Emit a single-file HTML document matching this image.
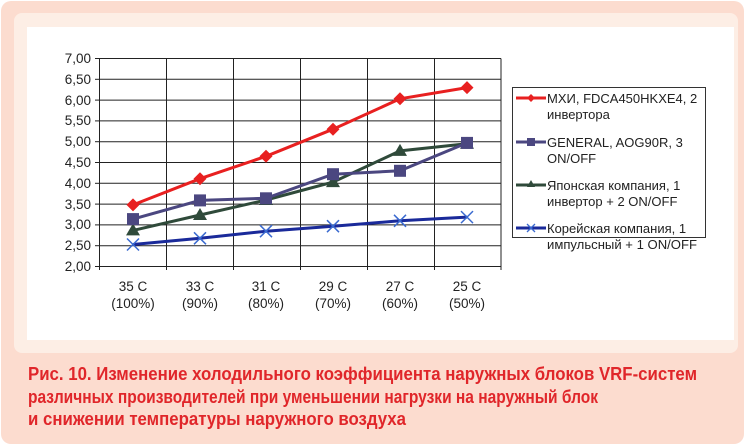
<!DOCTYPE html>
<html><head><meta charset="utf-8"><style>
html,body{margin:0;padding:0;background:#fff;}
svg{display:block;font-family:"Liberation Sans",sans-serif;}
</style></head><body>
<svg width="746" height="446" viewBox="0 0 746 446" xmlns="http://www.w3.org/2000/svg">
<rect x="0" y="0" width="746" height="446" fill="#fff"/>
<rect x="1" y="1" width="743" height="443" rx="10" fill="#fcdccf"/>
<rect x="14" y="13" width="724" height="340" rx="8" fill="#fdeee5"/>
<rect x="27" y="27" width="707" height="313" fill="#fff"/>
<g stroke="#222" stroke-width="1">
<line x1="99" y1="58.5" x2="501" y2="58.5"/>
<line x1="99" y1="79.3" x2="501" y2="79.3"/>
<line x1="99" y1="100.1" x2="501" y2="100.1"/>
<line x1="99" y1="120.9" x2="501" y2="120.9"/>
<line x1="99" y1="141.7" x2="501" y2="141.7"/>
<line x1="99" y1="162.5" x2="501" y2="162.5"/>
<line x1="99" y1="183.3" x2="501" y2="183.3"/>
<line x1="99" y1="204.1" x2="501" y2="204.1"/>
<line x1="99" y1="224.9" x2="501" y2="224.9"/>
<line x1="99" y1="245.7" x2="501" y2="245.7"/>
<line x1="95" y1="266.5" x2="501" y2="266.5"/>
<line x1="99.5" y1="58.5" x2="99.5" y2="270"/>
<line x1="166.5" y1="58.5" x2="166.5" y2="270"/>
<line x1="233.5" y1="58.5" x2="233.5" y2="270"/>
<line x1="300.5" y1="58.5" x2="300.5" y2="270"/>
<line x1="367.5" y1="58.5" x2="367.5" y2="270"/>
<line x1="434.5" y1="58.5" x2="434.5" y2="270"/>
<line x1="501" y1="58.5" x2="501" y2="270"/>
<line x1="95" y1="58.5" x2="99" y2="58.5"/><line x1="95" y1="79.3" x2="99" y2="79.3"/><line x1="95" y1="100.1" x2="99" y2="100.1"/><line x1="95" y1="120.9" x2="99" y2="120.9"/><line x1="95" y1="141.7" x2="99" y2="141.7"/><line x1="95" y1="162.5" x2="99" y2="162.5"/><line x1="95" y1="183.3" x2="99" y2="183.3"/><line x1="95" y1="204.1" x2="99" y2="204.1"/><line x1="95" y1="224.9" x2="99" y2="224.9"/><line x1="95" y1="245.7" x2="99" y2="245.7"/>
</g>
<g font-size="13.5" fill="#222" text-anchor="end">
<text x="91" y="63">7,00</text><text x="91" y="84">6,50</text><text x="91" y="105">6,00</text><text x="91" y="125">5,50</text><text x="91" y="146">5,00</text><text x="91" y="167">4,50</text><text x="91" y="188">4,00</text><text x="91" y="209">3,50</text><text x="91" y="229">3,00</text><text x="91" y="250">2,50</text><text x="91" y="271">2,00</text>
</g>
<g font-size="13.5" fill="#222" text-anchor="middle">
<text x="133" y="291">35 C</text><text x="133" y="308">(100%)</text>
<text x="200" y="291">33 C</text><text x="200" y="308">(90%)</text>
<text x="266" y="291">31 C</text><text x="266" y="308">(80%)</text>
<text x="333" y="291">29 C</text><text x="333" y="308">(70%)</text>
<text x="400" y="291">27 C</text><text x="400" y="308">(60%)</text>
<text x="467" y="291">25 C</text><text x="467" y="308">(50%)</text>
</g>
<polyline points="133,244.5 200,238.3 266,231.2 333,226.2 400,220.8 467,217.1" fill="none" stroke="#1a2a9a" stroke-width="3"/>
<g stroke="#3a6ad0" stroke-width="1.5">
<path d="M127,238.5l12,12M139,238.5l-12,12"/><path d="M194,232.3l12,12M206,232.3l-12,12"/><path d="M260,225.2l12,12M272,225.2l-12,12"/><path d="M327,220.2l12,12M339,220.2l-12,12"/><path d="M394,214.8l12,12M406,214.8l-12,12"/><path d="M461,211.1l12,12M473,211.1l-12,12"/>
</g>
<polyline points="133,230.4 200,215 266,200 333,182.1 400,150.9 467,143.8" fill="none" stroke="#2f4a3a" stroke-width="3"/>
<g fill="#2f4a3a">
<path d="M133,223.4l7,12h-14z"/><path d="M200,208l7,12h-14z"/><path d="M266,193l7,12h-14z"/><path d="M333,175.1l7,12h-14z"/><path d="M400,143.9l7,12h-14z"/><path d="M467,136.8l7,12h-14z"/>
</g>
<polyline points="133,219.1 200,200.4 266,198.3 333,174.2 400,170.8 467,142.9" fill="none" stroke="#4b4780" stroke-width="3"/>
<g fill="#4b4780">
<rect x="127" y="213.1" width="12" height="12"/><rect x="194" y="194.4" width="12" height="12"/><rect x="260" y="192.3" width="12" height="12"/><rect x="327" y="168.2" width="12" height="12"/><rect x="394" y="164.8" width="12" height="12"/><rect x="461" y="136.9" width="12" height="12"/>
</g>
<polyline points="133,204.9 200,178.7 266,156.3 333,129.2 400,98.8 467,87.6" fill="none" stroke="#e82020" stroke-width="3"/>
<g fill="#e82020">
<path d="M133,198.4l6.5,6.5l-6.5,6.5l-6.5,-6.5z"/><path d="M200,172.2l6.5,6.5l-6.5,6.5l-6.5,-6.5z"/><path d="M266,149.8l6.5,6.5l-6.5,6.5l-6.5,-6.5z"/><path d="M333,122.7l6.5,6.5l-6.5,6.5l-6.5,-6.5z"/><path d="M400,92.3l6.5,6.5l-6.5,6.5l-6.5,-6.5z"/><path d="M467,81.1l6.5,6.5l-6.5,6.5l-6.5,-6.5z"/>
</g>
<rect x="512.5" y="87.5" width="193" height="150" fill="#fff" stroke="#333" stroke-width="1"/>
<line x1="516" y1="98" x2="546" y2="98" stroke="#e82020" stroke-width="3"/><path d="M531,94l4,4l-4,4l-4,-4z" fill="#e82020"/>
<line x1="516" y1="142" x2="546" y2="142" stroke="#4b4780" stroke-width="3"/><rect x="527" y="138" width="8" height="8" fill="#4b4780"/>
<line x1="516" y1="185" x2="546" y2="185" stroke="#2f4a3a" stroke-width="3"/><path d="M531,180l4,7h-8z" fill="#2f4a3a"/>
<line x1="516" y1="228" x2="546" y2="228" stroke="#1a2a9a" stroke-width="3"/><path d="M527,224l8,8M535,224l-8,8" stroke="#3a6ad0" stroke-width="1.3"/>
<g font-size="13" fill="#222">
<text x="547" y="103">МХИ, FDCA450HKXE4, 2</text><text x="547" y="119">инвертора</text>
<text x="547" y="147">GENERAL, AOG90R, 3</text><text x="547" y="163">ON/OFF</text>
<text x="547" y="190">Японская компания, 1</text><text x="547" y="206">инвертор + 2 ON/OFF</text>
<text x="547" y="233">Корейская компания, 1</text><text x="547" y="249" textLength="150" lengthAdjust="spacingAndGlyphs">импульсный + 1 ON/OFF</text>
</g>
<g font-size="18" fill="#e0262a" font-weight="bold">
<text x="28" y="380" textLength="669" lengthAdjust="spacingAndGlyphs">Рис. 10. Изменение холодильного коэффициента наружных блоков VRF-систем</text>
<text x="28" y="403" textLength="570" lengthAdjust="spacingAndGlyphs">различных производителей при уменьшении нагрузки на наружный блок</text>
<text x="28" y="425" textLength="378" lengthAdjust="spacingAndGlyphs">и снижении температуры наружного воздуха</text>
</g>
</svg>
</body></html>
